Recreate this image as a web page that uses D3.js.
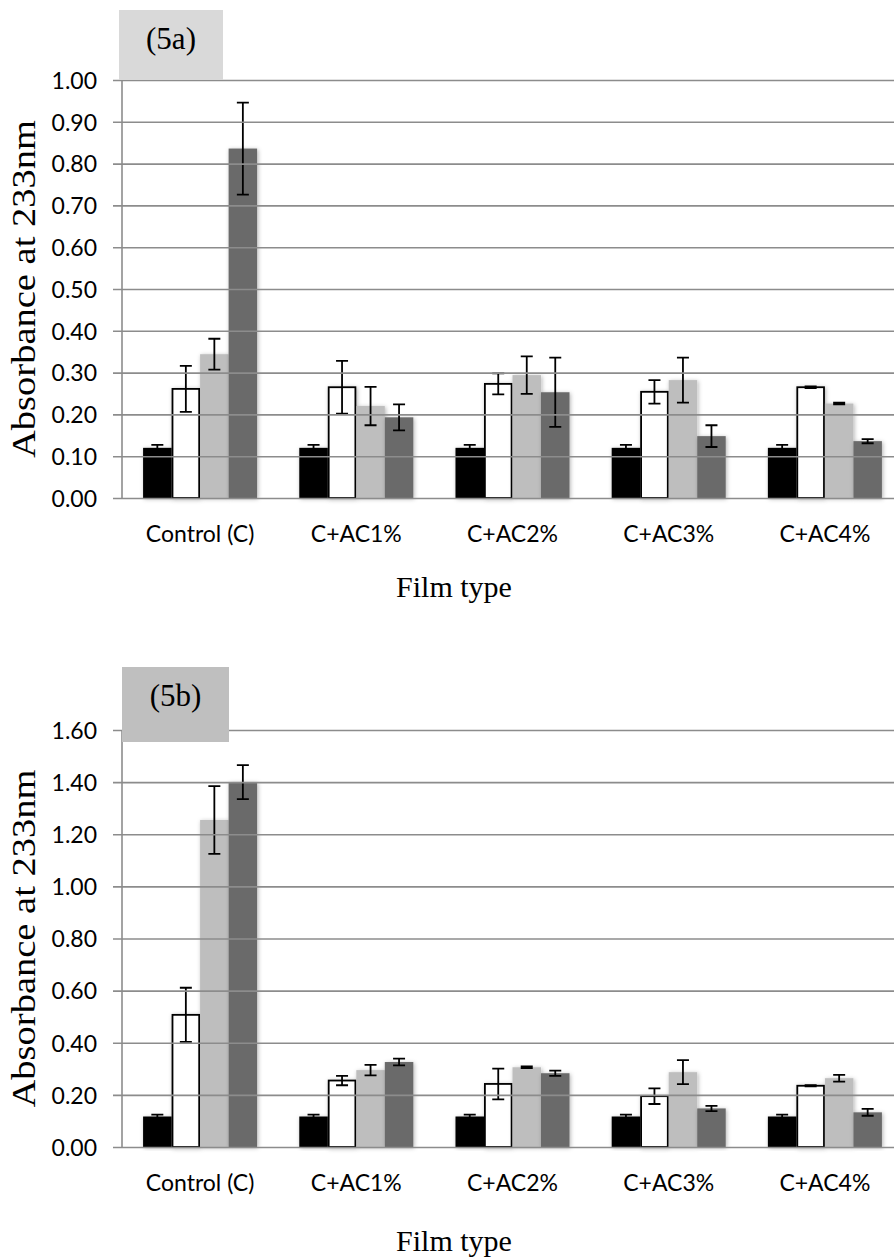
<!DOCTYPE html>
<html>
<head>
<meta charset="utf-8">
<script src="https://cdn.jsdelivr.net/npm/d3@7"></script>
<style>
  body { margin: 0; background: #fff; }
  .tick text, .catLabel { font-family: Lato, "Open Sans", sans-serif; font-size: 23px; fill: #000; }
  .serif { font-family: "Liberation Serif", "Times New Roman", serif; fill: #000; }
</style>
</head>
<body>
<div id="chart"></div>
<script>
// categories on the x axis (same for both panels)
var categories = ["Control (C)", "C+AC1%", "C+AC2%", "C+AC3%", "C+AC4%"];
var seriesKeys = ["s1", "s2", "s3", "s4"];

// panel (5a) values and error bars
var a_s1 = [0.12, 0.12, 0.12, 0.12, 0.12];
var a_s2 = [0.261, 0.265, 0.273, 0.254, 0.265];
var a_s3 = [0.344, 0.22, 0.294, 0.282, 0.226];
var a_s4 = [0.836, 0.193, 0.253, 0.148, 0.136];
var a_e1 = [0.007, 0.007, 0.007, 0.007, 0.007];
var a_e2 = [0.055, 0.063, 0.025, 0.028, 0.002];
var a_e3 = [0.037, 0.046, 0.045, 0.054, 0.002];
var a_e4 = [0.11, 0.031, 0.083, 0.026, 0.005];
var a_ticks = [0, 0.1, 0.2, 0.3, 0.4, 0.5, 0.6, 0.7, 0.8, 0.9, 1.0];

// panel (5b) values and error bars
var b_s1 = [0.117, 0.117, 0.117, 0.117, 0.117];
var b_s2 = [0.507, 0.255, 0.242, 0.195, 0.235];
var b_s3 = [1.255, 0.295, 0.306, 0.287, 0.264];
var b_s4 = [1.400, 0.326, 0.283, 0.148, 0.133];
var b_e1 = [0.007, 0.007, 0.007, 0.007, 0.007];
var b_e2 = [0.104, 0.018, 0.059, 0.03, 0.002];
var b_e3 = [0.13, 0.02, 0.003, 0.046, 0.013];
var b_e4 = [0.065, 0.013, 0.01, 0.01, 0.013];
var b_ticks = [0, 0.2, 0.4, 0.6, 0.8, 1.0, 1.2, 1.4, 1.6];

var width = 894, height = 1258;
var gridColor = "#8c8c8c";
var fills = { s1: "#000000", s2: "#ffffff", s3: "#bebebe", s4: "#6a6a6a" };

var svg = d3.select("#chart").append("svg")
  .attr("width", width)
  .attr("height", height);

// soft shadow like the spreadsheet bars
var defs = svg.append("defs");
var f = defs.append("filter").attr("id", "shadow")
  .attr("x", "-30%").attr("y", "-10%").attr("width", "160%").attr("height", "120%");
f.append("feDropShadow").attr("dx", 1).attr("dy", 1)
  .attr("stdDeviation", 2).attr("flood-color", "#000").attr("flood-opacity", 0.3);

function makeRows(vals, errs) {
  return categories.map(function(c, i) {
    var row = { cat: c };
    seriesKeys.forEach(function(k, j) {
      row[k] = vals[j][i];
      row[k + "_err"] = errs[j][i];
    });
    return row;
  });
}

function drawPanel(opt) {
  var left = 122, right = 903;
  var top = opt.top, bottom = opt.bottom;
  var rows = makeRows(opt.values, opt.errors);

  var x = d3.scaleBand().domain(categories).range([left, right])
    .paddingInner(0.27).paddingOuter(0.135);
  var xs = d3.scaleBand().domain(seriesKeys).range([0, x.bandwidth()]);
  var y = d3.scaleLinear().domain([0, opt.yMax]).range([bottom, top]);

  var g = svg.append("g");

  // bars
  var groups = g.append("g").selectAll("g").data(rows).enter().append("g")
    .attr("transform", function(d) { return "translate(" + x(d.cat) + ",0)"; });

  groups.selectAll("rect").data(function(d) {
    return seriesKeys.map(function(k) { return { key: k, v: d[k], e: d[k + "_err"] }; });
  }).enter().append("rect")
    .attr("x", function(d) { return xs(d.key) + (d.key == "s2" ? 0.9 : 0); })
    .attr("y", function(d) { return y(d.v); })
    .attr("width", function(d) { return xs.bandwidth() - (d.key == "s2" ? 1.8 : 0); })
    .attr("height", function(d) { return bottom - y(d.v); })
    .attr("fill", function(d) { return fills[d.key]; })
    .attr("stroke", function(d) { return d.key == "s2" ? "#000" : "none"; })
    .attr("stroke-width", 1.8)
    .attr("filter", "url(#shadow)");

  // gridlines and value axis
  var yAxis = d3.axisLeft(y).tickValues(opt.ticks)
    .tickSize(-(width - left + 9)).tickPadding(17)
    .tickFormat(d3.format(".2f"));
  var ax = g.append("g").attr("transform", "translate(" + (left - 9) + ",0)").call(yAxis);
  ax.select(".domain").remove();
  ax.selectAll(".tick line").attr("stroke", gridColor).attr("stroke-width", 1.6);
  ax.selectAll(".tick text").attr("x", -16).attr("dy", "0.36em");

  g.append("line")
    .attr("x1", left).attr("x2", left)
    .attr("y1", top).attr("y2", bottom)
    .attr("stroke", gridColor).attr("stroke-width", 1.6);

  // error bars
  var cap = 6;
  groups.each(function(d) {
    var gg = d3.select(this);
    seriesKeys.forEach(function(k) {
      var cx = xs(k) + xs.bandwidth() / 2;
      var hi = y(d[k] + d[k + "_err"]), lo = y(d[k] - d[k + "_err"]);
      var path = "M" + cx + "," + hi + "V" + lo +
        "M" + (cx - cap) + "," + hi + "H" + (cx + cap) +
        "M" + (cx - cap) + "," + lo + "H" + (cx + cap);
      gg.append("path").attr("d", path)
        .attr("stroke", "#000").attr("stroke-width", 1.8).attr("fill", "none");
    });
  });

  // category labels
  g.selectAll(".catLabel").data(categories).enter().append("text")
    .attr("class", "catLabel")
    .attr("x", function(d) { return x(d) + x.bandwidth() / 2; })
    .attr("y", bottom + 44)
    .attr("text-anchor", "middle")
    .text(function(d) { return d; });

  // axis titles
  g.append("text").attr("class", "serif")
    .attr("x", 454).attr("y", opt.xTitleY)
    .attr("text-anchor", "middle")
    .style("font-size", "30px")
    .text("Film type");

  g.append("text").attr("class", "serif")
    .attr("transform", "translate(35," + ((top + bottom) / 2) + ")rotate(-90)")
    .attr("text-anchor", "middle")
    .attr("textLength", 338)
    .attr("lengthAdjust", "spacingAndGlyphs")
    .style("font-size", "33px")
    .text("Absorbance at 233nm");

  // panel label box
  g.append("rect")
    .attr("x", opt.box[0]).attr("y", opt.box[1])
    .attr("width", opt.box[2]).attr("height", opt.box[3])
    .attr("fill", opt.boxFill);
  g.append("text").attr("class", "serif")
    .attr("x", opt.box[0] + opt.box[2] / 2).attr("y", opt.labelY)
    .attr("text-anchor", "middle")
    .style("font-size", "31px")
    .text(opt.label);
}

drawPanel({
  top: 80, bottom: 498, yMax: 1.0, ticks: a_ticks,
  values: [a_s1, a_s2, a_s3, a_s4], errors: [a_e1, a_e2, a_e3, a_e4],
  xTitleY: 597, label: "(5a)", labelY: 49, boxFill: "#d9d9d9",
  box: [119, 10, 104, 70]
});

drawPanel({
  top: 730, bottom: 1147, yMax: 1.6, ticks: b_ticks,
  values: [b_s1, b_s2, b_s3, b_s4], errors: [b_e1, b_e2, b_e3, b_e4],
  xTitleY: 1251, label: "(5b)", labelY: 706, boxFill: "#bfbfbf",
  box: [122, 667, 107, 75]
});
</script>
</body>
</html>
